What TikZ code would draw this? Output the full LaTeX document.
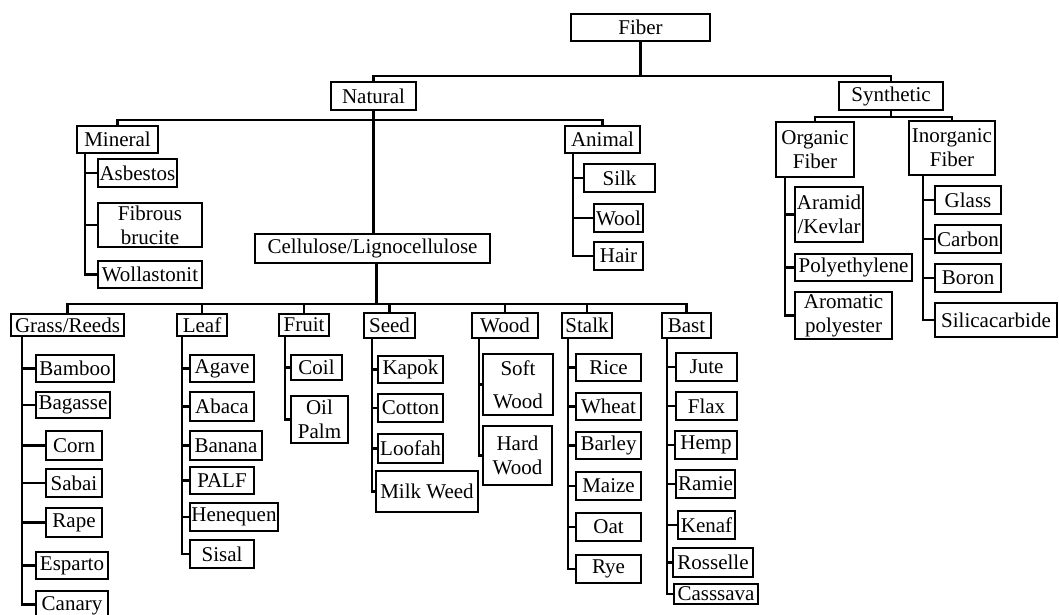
\documentclass[tikz,border=0pt]{standalone}
\usepackage{fontspec}
\setmainfont{Liberation Serif}
\tikzset{
  bx/.style={draw,line width=2.2pt,inner sep=0pt,align=center,font=\fontsize{21}{24}\selectfont},
  ln/.style={line width=2.2pt},
}
\newcommand{\bx}[6]{\node[bx,minimum width={#4-#2},minimum height={#5-#3}] (#1) at ({(#2+#4)/2},{(#3+#5)/2}) {#6};}
\newcommand{\tk}[2]{\draw[ln] (#1.west) -- (#1.west -| #2);}
\begin{document}
\begin{tikzpicture}[x=1pt,y=-1pt]
\clip (0,0) rectangle (1059,615);
\fill[white] (0,0) rectangle (1059,615);
% level 0-1
\bx{fiber}{571}{14}{710}{41}{Fiber}
\bx{natural}{331}{82}{416}{110}{Natural}
\bx{synthetic}{839}{82}{943}{110}{Synthetic}
% level 2
\bx{mineral}{77}{126}{158}{153}{Mineral}
\bx{animal}{565}{126}{640}{153}{Animal}
\bx{cellulose}{255}{234}{490}{263}{Cellulose/Lignocellulose}
\bx{organic}{776}{122}{854}{177}{Organic\\Fiber}
\bx{inorganic}{909}{121}{995}{175}{Inorganic\\Fiber}
% mineral children
\bx{asbestos}{98}{159}{177}{187}{Asbestos}
\bx{brucite}{98}{203}{202}{247}{Fibrous\\brucite}
\bx{wollast}{98}{261}{202}{288}{Wollastonit}
% animal children
\bx{silk}{584}{164}{655}{192}{Silk}
\bx{wool}{594}{204}{643}{232}{Wool}
\bx{hair}{594}{242}{643}{270}{Hair}
% organic children
\bx{aramid}{795}{187}{863}{242}{Aramid\\/Kevlar}
\bx{polyeth}{795}{254}{912}{281}{Polyethylene}
\bx{aromatic}{795}{292}{892}{339}{Aromatic\\polyester}
% inorganic children
\bx{glass}{935}{186}{1001}{214}{Glass}
\bx{carbon}{935}{225}{1001}{253}{Carbon}
\bx{boron}{935}{264}{1001}{292}{Boron}
\bx{silica}{935}{303}{1057}{337}{Silicacarbide}
% level 3
\bx{grass}{11}{314}{124}{336}{Grass/Reeds}
\bx{leaf}{177}{314}{227}{336}{Leaf}
\bx{fruit}{279}{314}{329}{336}{Fruit}
\bx{seed}{364}{313}{415}{338}{Seed}
\bx{wood}{472}{313}{538}{338}{Wood}
\bx{stalk}{562}{313}{612}{338}{Stalk}
\bx{bast}{662}{313}{711}{338}{Bast}
% grass children
\bx{bamboo}{36}{355}{114}{382}{Bamboo}
\bx{bagasse}{36}{392}{110}{418}{Bagasse}
\bx{corn}{46}{431}{102}{460}{Corn}
\bx{sabai}{46}{469}{102}{497}{Sabai}
\bx{rape}{46}{508}{102}{537}{Rape}
\bx{esparto}{36}{552}{108}{579}{Esparto}
\bx{canary}{36}{591}{108}{620}{Canary}
% leaf children
\bx{agave}{190}{355}{254}{382}{Agave}
\bx{abaca}{190}{392}{254}{421}{Abaca}
\bx{banana}{190}{431}{262}{460}{Banana}
\bx{palf}{190}{467}{254}{494}{PALF}
\bx{henequen}{190}{503}{278}{531}{Henequen}
\bx{sisal}{190}{540}{254}{568}{Sisal}
% fruit children
\bx{coil}{291}{355}{342}{380}{Coil}
\bx{oilpalm}{291}{396}{348}{443}{Oil\\Palm}
% seed children
\bx{kapok}{378}{356}{443}{383}{Kapok}
\bx{cotton}{378}{394}{443}{422}{Cotton}
\bx{loofah}{378}{434}{443}{463}{Loofah}
\bx{milkweed}{376}{471}{478}{512}{Milk Weed}
% wood children
\bx{softwood}{483}{354}{553}{415}{Soft\\[9pt]Wood}
\bx{hardwood}{483}{426}{552}{485}{Hard\\Wood}
% stalk children
\bx{rice}{576}{354}{641}{381}{Rice}
\bx{wheat}{576}{393}{641}{420}{Wheat}
\bx{barley}{576}{432}{641}{459}{Barley}
\bx{maize}{576}{472}{641}{500}{Maize}
\bx{oat}{576}{513}{641}{541}{Oat}
\bx{rye}{576}{555}{641}{583}{Rye}
% bast children
\bx{jute}{676}{353}{737}{381}{Jute}
\bx{flax}{676}{392}{737}{420}{Flax}
\bx{hemp}{675}{431}{737}{459}{Hemp}
\bx{ramie}{676}{470}{735}{498}{Ramie}
\bx{kenaf}{678}{511}{735}{539}{Kenaf}
\bx{rosselle}{673}{548}{753}{577}{Rosselle}
\bx{casssava}{674}{584}{758}{604}{Casssava}

% ---- connectors ----
\coordinate (b0) at (0,76);
\coordinate (b1) at (0,120);
\coordinate (b2) at (0,117);
\coordinate (b3) at (0,304);
\draw[ln] (fiber.south) -- (fiber.south |- b0);
\draw[ln] (natural.north) -- (natural.north |- b0) -| (synthetic.north);
\draw[ln] (mineral.north) -- (mineral.north |- b1) -| (animal.north);
\draw[ln] (natural.south) -- (natural.south |- cellulose.north);
\draw[ln] (synthetic.south) -- (synthetic.south |- b2);
\draw[ln] (organic.north) -- (organic.north |- b2) -| (inorganic.north);
\draw[line width=3pt] ([xshift=4pt]cellulose.south) -- ([xshift=4pt]cellulose.south |- b3);
\draw[ln] (grass.north) -- (grass.north |- b3) -| (bast.north);
\foreach \n in {leaf,fruit,seed,wood,stalk}{\draw[ln] (\n.north) -- (\n.north |- b3);}

% spines
\coordinate (smin) at (85,153);
\draw[ln] (smin) |- (wollast.west); \tk{asbestos}{smin}\tk{brucite}{smin}
\coordinate (sani) at (573,153);
\draw[ln] (sani) |- (hair.west); \tk{silk}{sani}\tk{wool}{sani}
\coordinate (sorg) at (785,177);
\draw[ln] (sorg) |- (aromatic.west); \tk{aramid}{sorg}\tk{polyeth}{sorg}
\coordinate (sino) at (923,175);
\draw[ln] (sino) |- (silica.west); \tk{glass}{sino}\tk{carbon}{sino}\tk{boron}{sino}
\coordinate (sgra) at (22,336);
\draw[ln] (sgra) |- ([yshift=1pt]canary.west); \foreach \n in {bamboo,bagasse,corn,sabai,rape,esparto}{\tk{\n}{sgra}}
\coordinate (slea) at (182,336);
\draw[ln] (slea) |- (sisal.west); \foreach \n in {agave,abaca,banana,palf,henequen}{\tk{\n}{slea}}
\coordinate (sfru) at (285,336);
\draw[ln] (sfru) |- (oilpalm.west); \tk{coil}{sfru}
\coordinate (ssee) at (372,338);
\draw[ln] (ssee) |- (milkweed.west); \foreach \n in {kapok,cotton,loofah}{\tk{\n}{ssee}}
\coordinate (swoo) at (479,338);
\draw[ln] (swoo) |- (hardwood.west); \tk{softwood}{swoo}
\coordinate (ssta) at (568,338);
\draw[ln] (ssta) |- (rye.west); \foreach \n in {rice,wheat,barley,maize,oat}{\tk{\n}{ssta}}
\coordinate (sbas) at (667,338);
\draw[ln] (sbas) |- (casssava.west); \foreach \n in {jute,flax,hemp,ramie,kenaf,rosselle}{\tk{\n}{sbas}}
\end{tikzpicture}
\end{document}
